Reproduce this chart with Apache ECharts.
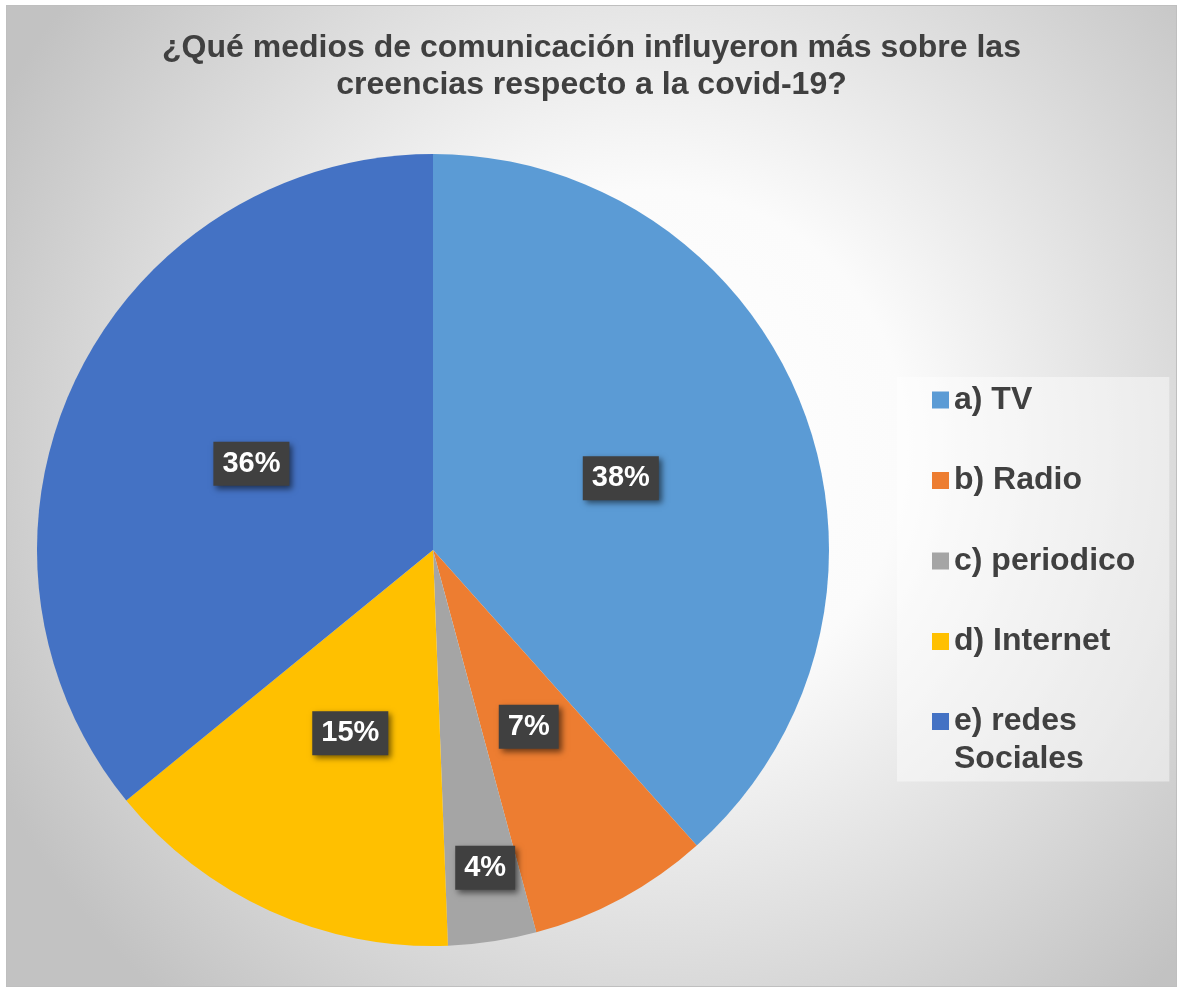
<!DOCTYPE html>
<html>
<head>
<meta charset="utf-8">
<script src="https://cdn.jsdelivr.net/npm/echarts@6/dist/echarts.min.js"></script>
<style>
  html, body { margin: 0; padding: 0; background: #fff; }
  #wrap {
    position: absolute;
    left: 6px;
    top: 5px;
    width: 1169px;
    height: 980px;
    border: 1px solid #bfbfbf;
  }
  #chart { width: 100%; height: 100%; }
</style>
</head>
<body>
<div id="wrap"><div id="chart"></div></div>
<script>
const categories = ['a) TV', 'b) Radio', 'c) periodico', 'd) Internet', 'e) redes Sociales']
const shares = [38.4, 7.4, 3.6, 14.7, 35.9]
const colors = ['#5B9BD5', '#ED7D31', '#A5A5A5', '#FFC000', '#4472C4']
const titleText = '¿Qué medios de comunicación influyeron más sobre las\ncreencias respecto a la covid-19?'

const font = '"Liberation Sans", Arial, sans-serif'

const pieData = categories.map((name, i) => ({
  name,
  value: shares[i],
  itemStyle: { color: colors[i] }
}))

const legendText = {
  fontFamily: font,
  fontSize: 32,
  fontWeight: 'bold',
  color: '#404040',
  lineHeight: 38
}

const chart = echarts.init(document.getElementById('chart'))

chart.setOption({
  animation: false,
  backgroundColor: {
    type: 'radial',
    x: 0.55,
    y: 0.45,
    r: 0.75,
    colorStops: [
      { offset: 0, color: '#ffffff' },
      { offset: 0.35, color: '#fbfbfb' },
      { offset: 1, color: '#c2c2c2' }
    ]
  },
  title: {
    text: titleText,
    left: 'center',
    top: 19,
    padding: [5, 5, 5, 21],
    textStyle: {
      fontFamily: font,
      fontSize: 32,
      fontWeight: 'bold',
      color: '#404040',
      lineHeight: 37
    }
  },
  legend: [
    {
      // a) .. d): also carries the light box behind the whole legend
      orient: 'vertical',
      left: 890,
      top: 371,
      padding: [4, 34, 121, 35],
      itemWidth: 17,
      itemHeight: 17,
      itemGap: 42.5,
      icon: 'rect',
      backgroundColor: 'rgba(255,255,255,0.45)',
      itemStyle: { borderWidth: 0 },
      textStyle: legendText,
      data: categories.slice(0, 4)
    },
    {
      // e) wraps onto two lines, first line level with the swatch
      orient: 'vertical',
      left: 925,
      top: 658.5,
      padding: 0,
      itemWidth: 17,
      itemHeight: 17,
      icon: 'rect',
      itemStyle: { borderWidth: 0 },
      textStyle: legendText,
      formatter: () => '\ne) redes\nSociales',
      data: categories.slice(4)
    }
  ],
  series: [
    {
      type: 'pie',
      center: [426, 544],
      radius: 396,
      startAngle: 90,
      clockwise: true,
      percentPrecision: 0,
      data: pieData,
      itemStyle: { borderWidth: 0 },
      label: {
        show: true,
        position: 'inside',
        formatter: '{d}%',
        fontFamily: font,
        fontSize: 29,
        fontWeight: 'bold',
        color: '#ffffff',
        lineHeight: 32,
        backgroundColor: '#404040',
        padding: [6, 9, 6, 9],
        shadowColor: 'rgba(0,0,0,0.55)',
        shadowBlur: 6,
        shadowOffsetX: 3,
        shadowOffsetY: 3
      },
      labelLine: { show: false },
      labelLayout: (params) => {
        if (params.dataIndex === 2) {
          return { dx: 22, dy: 119 }
        }
        return {}
      },
      emphasis: { disabled: true }
    }
  ]
})

window.addEventListener('resize', () => chart.resize())
</script>
</body>
</html>
